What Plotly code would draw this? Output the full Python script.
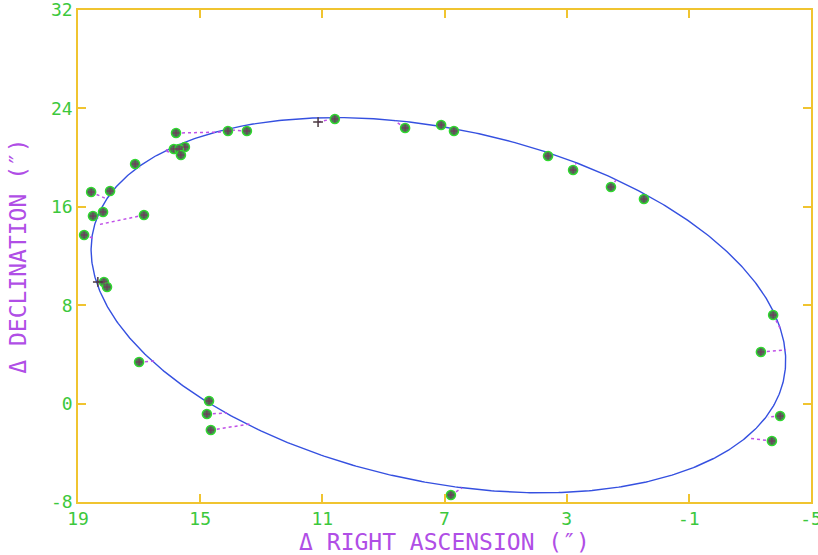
import numpy as np
import plotly.graph_objects as go

# ---- data (arcsec) ----
obs_ra = [15.79, 14.09, 13.47, 15.50, 15.86, 15.69, 15.63, 17.13, 18.57, 17.95,
          18.18, 18.51, 16.84, 18.80, 18.15, 18.05, 17.00, 14.71, 14.78, 14.65,
          10.59, 8.29, 7.11, 6.69, 3.61, 2.79, 1.55, 0.47, -3.76, -3.36,
          -3.99, -3.72, 6.79]
obs_dec = [22.00, 22.16, 22.16, 20.86, 20.70, 20.70, 20.21, 19.48, 17.20, 17.28,
           15.58, 15.25, 15.33, 13.71, 9.89, 9.48, 3.38, 0.21, -0.85, -2.15,
           23.14, 22.41, 22.65, 22.16, 20.13, 18.99, 17.61, 16.63, 7.20, 4.20,
           -1.01, -3.04, -7.43]
pred_ra = [14.22, 14.15, 13.96, 15.92, 16.12, 16.05, 16.15, 16.97, 18.05, 17.92,
           18.21, 18.31, 18.38, 18.51, 18.31, 18.21, 16.48, 14.68, 14.12, 13.37,
           10.65, 8.62, 7.11, 6.82, 3.64, 2.69, 1.38, 0.43, -4.02, -4.18,
           -3.59, -2.94, 6.43]
pred_dec = [22.08, 22.16, 22.24, 20.94, 20.62, 20.70, 20.54, 19.15, 16.63, 17.20,
            15.50, 15.09, 14.52, 13.46, 9.97, 9.64, 3.46, 0.29, -0.76, -1.66,
            23.22, 22.98, 22.73, 22.41, 20.29, 19.56, 18.18, 16.72, 5.98, 4.36,
            -1.09, -2.80, -6.86]
# observations drawn as plain crosses
cross_ra = [11.14, 18.35]
cross_dec = [22.89, 9.89]
cross_pred_ra = [10.68, 18.31]
cross_pred_dec = [23.14, 9.97]

# fitted apparent orbit (ellipse parameters)
orbit_center = (7.2, 8.0)
orbit_semi_major = 15.93
orbit_semi_minor = 10.4
orbit_angle_deg = 67.6

x_ticks = [19, 15, 11, 7, 3, -1, -5]
y_ticks = [-8, 0, 8, 16, 24, 32]

# ---- styling ----
GREEN_TXT = "#3cc83c"
VIOLET = "#b04ee6"
YELLOW = "#f0c430"
BLUE = "#3550e0"
FONT = "DejaVu Sans Mono"

t = np.linspace(0, 2 * np.pi, 721)
th = np.deg2rad(orbit_angle_deg)
ex = orbit_center[0] + orbit_semi_major * np.cos(th) * np.cos(t) - orbit_semi_minor * np.sin(th) * np.sin(t)
ey = orbit_center[1] + orbit_semi_major * np.sin(th) * np.cos(t) + orbit_semi_minor * np.cos(th) * np.sin(t)

res_x, res_y = [], []
for a, b, c, d in zip(obs_ra + cross_ra, obs_dec + cross_dec,
                      pred_ra + cross_pred_ra, pred_dec + cross_pred_dec):
    res_x += [a, c, None]
    res_y += [b, d, None]

fig = go.Figure()
fig.add_trace(go.Scatter(x=ex, y=ey, mode="lines",
                         line=dict(color=BLUE, width=1.4), hoverinfo="skip"))
fig.add_trace(go.Scatter(x=res_x, y=res_y, mode="lines",
                         line=dict(color="#c050e8", width=1.5, dash="dot"), hoverinfo="skip"))
fig.add_trace(go.Scatter(x=obs_ra, y=obs_dec, mode="markers",
                         marker=dict(symbol="circle", size=9, color="#4a7a52",
                                     line=dict(color="#30d830", width=1.6))))
fig.add_trace(go.Scatter(x=obs_ra, y=obs_dec, mode="markers",
                         marker=dict(symbol="cross-thin", size=5,
                                     line=dict(color="#7a3060", width=1))))
fig.add_trace(go.Scatter(x=cross_ra, y=cross_dec, mode="markers",
                         marker=dict(symbol="cross-thin", size=7,
                                     line=dict(color="#4a3a40", width=1.5))))

axis_common = dict(
    showgrid=False, zeroline=False, showline=True, linecolor=YELLOW, linewidth=1.5,
    mirror="ticks", ticks="inside", ticklen=8, tickwidth=1.5, tickcolor=YELLOW,
    tickfont=dict(family=FONT, size=18, color=GREEN_TXT), automargin=False,
)
fig.update_xaxes(range=[19, -5], tickvals=x_ticks, ticktext=[str(v) for v in x_ticks],
                 ticklabeloverflow="allow",
                 title=dict(text="Δ RIGHT ASCENSION (″)", standoff=2,
                            font=dict(family=FONT, size=23, color=VIOLET)),
                 **axis_common)
fig.update_yaxes(range=[-8, 32], tickvals=y_ticks, ticktext=[str(v) for v in y_ticks],
                 ticklabeloverflow="allow",
                 title=dict(text="Δ DECLINATION (″)", standoff=18,
                            font=dict(family=FONT, size=23, color=VIOLET)),
                 **axis_common)
fig.update_layout(width=818, height=555, showlegend=False,
                  margin=dict(l=78, r=7, t=10, b=53),
                  plot_bgcolor="white", paper_bgcolor="white")
# remove the default 8px page margin so the figure fills the window exactly
fig.write_html("out.html", config={"displayModeBar": False},
               post_script="document.body.style.margin='0';document.body.style.overflow='hidden';")
